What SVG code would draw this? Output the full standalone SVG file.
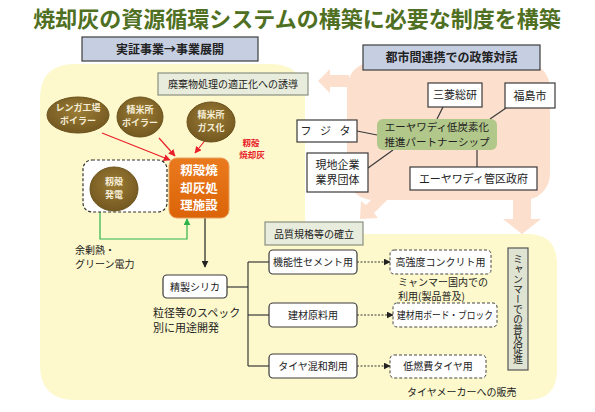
<svg xmlns="http://www.w3.org/2000/svg" width="595" height="412" viewBox="0 0 595 412">
<defs>
<style>
text{font-family:"Noto Sans CJK JP","Noto Sans",sans-serif;fill:#222;}
.t10{font-size:10px;}
.t11{font-size:11px;}
.hdr{fill:#c6cfe2;stroke:#3c3c3c;stroke-width:1.2;}
.lab{fill:#e8ecdc;stroke:#8a9080;stroke-width:1.2;}
.wb{fill:#fff;stroke:#3a3a3a;stroke-width:1.2;}
.rb{fill:#fff;stroke:#3a3a3a;stroke-width:1.2;}
.db{fill:#fff;stroke:#444;stroke-width:1;stroke-dasharray:3,2;}
.ell{fill:url(#eg);stroke:#6b521c;stroke-width:1;}
.et{font-size:9px;font-weight:bold;fill:#f5edd6;}
.ot{font-size:12.5px;font-weight:bold;fill:#fff;}
.red{stroke:#e8202a;stroke-width:1.2;fill:none;marker-end:url(#ar);}
.ln{stroke:#3a3a3a;stroke-width:1.2;fill:none;}
.dash{stroke:#3a3a3a;stroke-width:1;fill:none;stroke-dasharray:2,1.5;marker-end:url(#ab);}
.pk{fill:#fcdfcd;}
</style>
<radialGradient id="eg" cx="50%" cy="40%" r="60%">
<stop offset="0" stop-color="#9c7d36"/>
<stop offset="1" stop-color="#735820"/>
</radialGradient>
<linearGradient id="og" x1="0" y1="0" x2="0" y2="1">
<stop offset="0" stop-color="#ea7a1e"/>
<stop offset="1" stop-color="#dc6408"/>
</linearGradient>
<marker id="ar" viewBox="0 0 10 10" refX="9" refY="5" markerWidth="7" markerHeight="7" orient="auto" markerUnits="userSpaceOnUse">
<path d="M0,0 L10,5 L0,10 z" fill="#e8202a"/>
</marker>
<marker id="ab" viewBox="0 0 10 10" refX="9" refY="5" markerWidth="7" markerHeight="7" orient="auto" markerUnits="userSpaceOnUse">
<path d="M0,0 L10,5 L0,10 z" fill="#222"/>
</marker>
<marker id="ag" viewBox="0 0 10 10" refX="9" refY="5" markerWidth="7" markerHeight="7" orient="auto" markerUnits="userSpaceOnUse">
<path d="M0,0 L10,5 L0,10 z" fill="#2db34a"/>
</marker>
</defs>
<rect width="595" height="412" fill="#fff"/>

<!-- background regions -->
<g id="bg">
<path d="M40,99 Q40,64 75,64 L270,64 Q305,64 305,99 L305,234 L527,234 Q557,234 557,264 L557,370 Q557,400 527,400 L75,400 Q40,400 40,365 Z" fill="#fdf9cc"/>
<rect class="pk" x="347" y="62" width="203" height="138" rx="26"/>
<polygon class="pk" points="349,75 330,75 330,69 318,81 330,93 330,87 349,87"/>
<polygon class="pk" points="389,198 381,190 366,205 361,201 360,219 378,218 374,213"/>
<polygon class="pk" points="513,195 531,195 531,219 541,219 522,234 503,219 513,219"/>
</g>

<text x="297" y="27" text-anchor="middle" style="font-size:22px;font-weight:bold;fill:#4f6f22;">焼却灰の資源循環システムの構築に必要な制度を構築</text>

<g id="hdr1"><rect class="hdr" x="82" y="37" width="176" height="24"/><text x="170" y="53.5" text-anchor="middle" style="font-size:12px;font-weight:bold;">実証事業→事業展開</text></g>
<g id="hdr2"><rect class="hdr" x="363" y="45" width="177" height="25"/><text x="451.5" y="62" text-anchor="middle" style="font-size:12px;font-weight:bold;">都市間連携での政策対話</text></g>

<g id="lab1"><rect class="lab" x="158" y="73" width="150" height="22"/><text class="t10" x="233" y="88" text-anchor="middle">廃棄物処理の適正化への誘導</text></g>
<g id="lab2"><rect class="lab" x="265" y="222" width="98" height="23"/><text class="t10" x="314" y="237.5" text-anchor="middle">品質規格等の確立</text></g>

<!-- connectors -->
<g id="connectors">
<line class="red" x1="102" y1="133" x2="170" y2="160"/>
<line class="red" x1="159" y1="138" x2="175" y2="156"/>
<line class="red" x1="207" y1="138" x2="195" y2="153"/>
<line class="red" x1="138" y1="188" x2="167" y2="188"/>
<polyline points="100,212 100,239 187,239 187,219" fill="none" stroke="#2db34a" stroke-width="1.2" marker-end="url(#ag)"/>
<line x1="205" y1="218" x2="205" y2="267" stroke="#222" stroke-width="1.2" marker-end="url(#ab)"/>
<polyline class="ln" points="227,287 248,287"/>
<polyline class="ln" points="248,262 248,366"/>
<line class="ln" x1="248" y1="262" x2="269" y2="262"/>
<line class="ln" x1="248" y1="315" x2="269" y2="315"/>
<line class="ln" x1="248" y1="366" x2="269" y2="366"/>
<line class="dash" x1="357" y1="262" x2="390" y2="262"/>
<line class="dash" x1="357" y1="315" x2="393" y2="315"/>
<line class="dash" x1="357" y1="366" x2="390" y2="366"/>
<line class="ln" x1="443" y1="107" x2="437" y2="119"/>
<line class="ln" x1="506" y1="108" x2="490" y2="119"/>
<line class="ln" x1="357" y1="131" x2="377" y2="135"/>
<line class="ln" x1="368" y1="168" x2="393" y2="150"/>
<line class="ln" x1="477" y1="150" x2="477" y2="167"/>
</g>

<!-- upper left nodes -->
<g id="renga"><ellipse class="ell" cx="78" cy="115" rx="31" ry="18"/><text class="et" x="78" y="111" text-anchor="middle">レンガ工場</text><text class="et" x="78" y="123.5" text-anchor="middle">ボイラー</text></g>
<g id="seimai1"><ellipse class="ell" cx="140" cy="117" rx="23" ry="20"/><text class="et" x="140" y="113" text-anchor="middle">精米所</text><text class="et" x="140" y="125.5" text-anchor="middle">ボイラー</text></g>
<g id="seimai2"><ellipse class="ell" cx="211" cy="122" rx="24" ry="20"/><text class="et" x="211" y="118" text-anchor="middle">精米所</text><text class="et" x="211" y="130.5" text-anchor="middle">ガス化</text></g>
<g id="dashgrp"><rect x="83" y="160" width="84" height="52" rx="9" fill="#fff" stroke="#333" stroke-width="1.2" stroke-dasharray="3,2"/></g>
<g id="momihatsu"><ellipse class="ell" cx="114" cy="189" rx="24" ry="22"/><text class="et" x="114" y="185" text-anchor="middle">籾殻</text><text class="et" x="114" y="198" text-anchor="middle">発電</text></g>
<g id="shisetsu"><rect x="169" y="158" width="60" height="60" rx="8" fill="url(#og)" stroke="#e8a060" stroke-width="1"/>
<text class="ot" x="199" y="175" text-anchor="middle">籾殻焼</text>
<text class="ot" x="199" y="192.5" text-anchor="middle">却灰処</text>
<text class="ot" x="199" y="210" text-anchor="middle">理施設</text></g>
<g id="redlabel"><text x="251" y="146" text-anchor="middle" style="font-size:8.5px;font-weight:bold;fill:#e8202a;">籾殻</text><text x="252" y="158" text-anchor="middle" style="font-size:8.5px;font-weight:bold;fill:#e8202a;">焼却灰</text></g>
<g id="yojo"><text class="t10" x="75" y="254">余剰熱・</text><text class="t10" x="75" y="268">グリーン電力</text></g>

<!-- lower nodes -->
<g id="silica"><rect class="rb" x="163" y="275" width="64" height="23" rx="4"/><text class="t10" x="195" y="290.5" text-anchor="middle">精製シリカ</text></g>
<g id="ryukei"><text class="t11" x="153" y="317">粒径等のスペック</text><text class="t11" x="153" y="332">別に用途開発</text></g>
<g id="kinou"><rect class="rb" x="269" y="250" width="88" height="24" rx="4"/><text class="t10" x="313" y="265.5" text-anchor="middle">機能性セメント用</text></g>
<g id="kenzai"><rect class="rb" x="269" y="303" width="88" height="24" rx="4"/><text class="t10" x="313" y="318.5" text-anchor="middle">建材原料用</text></g>
<g id="taiya"><rect class="rb" x="269" y="354" width="88" height="24" rx="4"/><text class="t10" x="313" y="369.5" text-anchor="middle">タイヤ混和剤用</text></g>
<g id="kokyodo"><rect class="db" x="390" y="250" width="101" height="24" rx="4"/><text class="t10" x="440.5" y="265.5" text-anchor="middle">高強度コンクリト用</text></g>
<g id="board"><rect class="db" x="393" y="303" width="104" height="24" rx="4"/><text class="t10" x="445" y="318.5" text-anchor="middle" textLength="96" lengthAdjust="spacingAndGlyphs">建材用ボード・ブロック</text></g>
<g id="teinenpi"><rect class="db" x="390" y="355" width="96" height="23" rx="4"/><text class="t10" x="438" y="370" text-anchor="middle">低燃費タイヤ用</text></g>
<g id="kokunai"><text class="t10" x="398" y="285.5">ミャンマー国内での</text><text class="t10" x="398" y="300">利用(製品普及)</text></g>
<g id="hanbai"><text class="t10" x="407" y="396">タイヤメーカーへの販売</text></g>
<g id="fukyu"><rect x="508" y="248" width="20" height="122" fill="#dfe3d1" stroke="#555" stroke-width="1.2"/><text class="t10" x="518" y="254" style="writing-mode:vertical-rl;">ミャンマーでの普及促進</text></g>

<!-- policy dialogue nodes -->
<g id="mitsubishi"><rect class="wb" x="428" y="83" width="54" height="24"/><text class="t11" x="455" y="99" text-anchor="middle">三菱総研</text></g>
<g id="fukushima"><rect class="wb" x="505" y="83" width="50" height="25"/><text class="t11" x="530" y="99.5" text-anchor="middle">福島市</text></g>
<g id="fujita"><rect class="wb" x="297" y="120" width="60" height="22"/><text class="t11" x="327" y="135" text-anchor="middle" style="letter-spacing:3px;">フ ジ タ</text></g>
<g id="partner"><rect x="377" y="119" width="120" height="31" rx="6" fill="#b2c78a"/><text x="437" y="131" text-anchor="middle" style="font-size:10.5px;">エーヤワディ低炭素化</text><text x="437" y="146" text-anchor="middle" style="font-size:10.5px;">推進パートナーシップ</text></g>
<g id="genchi"><rect class="wb" x="307" y="153" width="61" height="39"/><text class="t11" x="337.5" y="169" text-anchor="middle">現地企業</text><text class="t11" x="337.5" y="184" text-anchor="middle">業界団体</text></g>
<g id="kanku"><rect class="wb" x="410" y="167" width="127" height="23"/><text class="t11" x="473.5" y="182.5" text-anchor="middle">エーヤワディ管区政府</text></g>
</svg>
